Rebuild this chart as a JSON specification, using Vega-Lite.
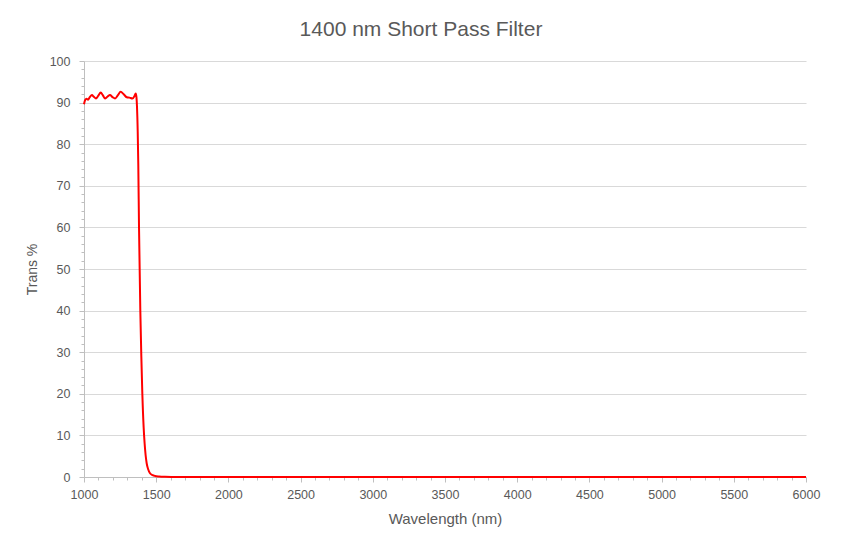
{
  "$schema": "https://vega.github.io/schema/vega-lite/v6.json",
  "autosize": "none",
  "width": 722,
  "height": 416,
  "padding": {"left": 84, "top": 61, "right": 37, "bottom": 75},
  "background": "white",
  "config": {
    "font": "Liberation Sans",
    "view": {"stroke": null},
    "axis": {"labelColor": "#595959", "titleColor": "#595959", "labelFont": "Liberation Sans", "titleFont": "Liberation Sans"}
  },
  "title": {
    "text": "1400 nm Short Pass Filter",
    "fontSize": 21,
    "fontWeight": "normal",
    "color": "#595959",
    "anchor": "middle",
    "dx": -24,
    "offset": 15
  },
  "data": {
    "values": [
      {"wavelength": 1000, "trans": 89.6},
      {"wavelength": 1008, "trans": 90.6},
      {"wavelength": 1018, "trans": 90.9},
      {"wavelength": 1028, "trans": 90.7},
      {"wavelength": 1040, "trans": 91.3},
      {"wavelength": 1055, "trans": 91.8},
      {"wavelength": 1068, "trans": 91.4},
      {"wavelength": 1083, "trans": 91.0},
      {"wavelength": 1098, "trans": 91.6},
      {"wavelength": 1116, "trans": 92.4},
      {"wavelength": 1130, "trans": 91.8},
      {"wavelength": 1145, "trans": 91.0},
      {"wavelength": 1162, "trans": 91.4},
      {"wavelength": 1180, "trans": 91.8},
      {"wavelength": 1198, "trans": 91.3},
      {"wavelength": 1215, "trans": 91.0},
      {"wavelength": 1235, "trans": 91.8},
      {"wavelength": 1254, "trans": 92.6},
      {"wavelength": 1275, "trans": 92.0},
      {"wavelength": 1296, "trans": 91.3},
      {"wavelength": 1315, "trans": 91.2},
      {"wavelength": 1335, "trans": 91.0},
      {"wavelength": 1350, "trans": 91.6},
      {"wavelength": 1358, "trans": 92.2},
      {"wavelength": 1363, "trans": 91.4},
      {"wavelength": 1367, "trans": 89.0},
      {"wavelength": 1372, "trans": 83.0},
      {"wavelength": 1376, "trans": 75.0},
      {"wavelength": 1381, "trans": 60.0},
      {"wavelength": 1390, "trans": 40.0},
      {"wavelength": 1397, "trans": 29.0},
      {"wavelength": 1404, "trans": 20.0},
      {"wavelength": 1413, "trans": 12.0},
      {"wavelength": 1420, "trans": 8.0},
      {"wavelength": 1434, "trans": 3.3},
      {"wavelength": 1445, "trans": 1.8},
      {"wavelength": 1457, "trans": 0.9},
      {"wavelength": 1475, "trans": 0.45},
      {"wavelength": 1492, "trans": 0.25},
      {"wavelength": 1520, "trans": 0.12},
      {"wavelength": 1560, "trans": 0.05},
      {"wavelength": 1620, "trans": 0.02},
      {"wavelength": 1700, "trans": 0},
      {"wavelength": 6000, "trans": 0}
    ]
  },
  "layer": [
    {
      "mark": {"type": "line", "color": "#FF0000", "strokeWidth": 2, "interpolate": "monotone"},
      "encoding": {
        "x": {
          "field": "wavelength", "type": "quantitative",
          "scale": {"domain": [1000, 6000], "nice": false, "zero": false},
          "axis": {
            "orient": "bottom",
            "title": "Wavelength (nm)",
            "titleFontSize": 15, "titleFontWeight": "normal", "titlePadding": 11,
            "values": [1000, 1500, 2000, 2500, 3000, 3500, 4000, 4500, 5000, 5500, 6000],
            "format": "d",
            "labelFontSize": 12.5, "labelPadding": 6, "labelFlush": false,
            "grid": false,
            "domainColor": "#BFBFBF", "tickColor": "#BFBFBF", "tickSize": 5
          }
        },
        "y": {
          "field": "trans", "type": "quantitative",
          "scale": {"domain": [0, 100], "nice": false},
          "axis": {
            "orient": "left",
            "title": "Trans %",
            "titleFontSize": 14, "titleFontWeight": "normal", "titlePadding": 10,
            "values": [0, 10, 20, 30, 40, 50, 60, 70, 80, 90, 100],
            "labelFontSize": 12.5, "labelPadding": 9,
            "grid": true, "gridColor": "#D9D9D9",
            "domainColor": "#BFBFBF", "tickColor": "#BFBFBF", "tickSize": 5
          }
        }
      }
    },
    {
      "mark": {"type": "line", "opacity": 0},
      "encoding": {
        "x": {
          "field": "wavelength", "type": "quantitative",
          "scale": {"domain": [1000, 6000], "nice": false, "zero": false},
          "axis": {
            "orient": "bottom", "title": null, "labels": false, "domain": false, "grid": false,
            "values": [1100, 1200, 1300, 1400, 1600, 1700, 1800, 1900, 2100, 2200, 2300, 2400, 2600, 2700, 2800, 2900, 3100, 3200, 3300, 3400, 3600, 3700, 3800, 3900, 4100, 4200, 4300, 4400, 4600, 4700, 4800, 4900, 5100, 5200, 5300, 5400, 5600, 5700, 5800, 5900],
            "tickColor": "#BFBFBF", "tickSize": 3
          }
        },
        "y": {
          "field": "trans", "type": "quantitative",
          "scale": {"domain": [0, 100], "nice": false},
          "axis": {
            "orient": "left", "title": null, "labels": false, "domain": false, "grid": false,
            "values": [2, 4, 6, 8, 12, 14, 16, 18, 22, 24, 26, 28, 32, 34, 36, 38, 42, 44, 46, 48, 52, 54, 56, 58, 62, 64, 66, 68, 72, 74, 76, 78, 82, 84, 86, 88, 92, 94, 96, 98],
            "tickColor": "#BFBFBF", "tickSize": 3
          }
        }
      }
    }
  ],
  "resolve": {"axis": {"x": "independent", "y": "independent"}}
}
